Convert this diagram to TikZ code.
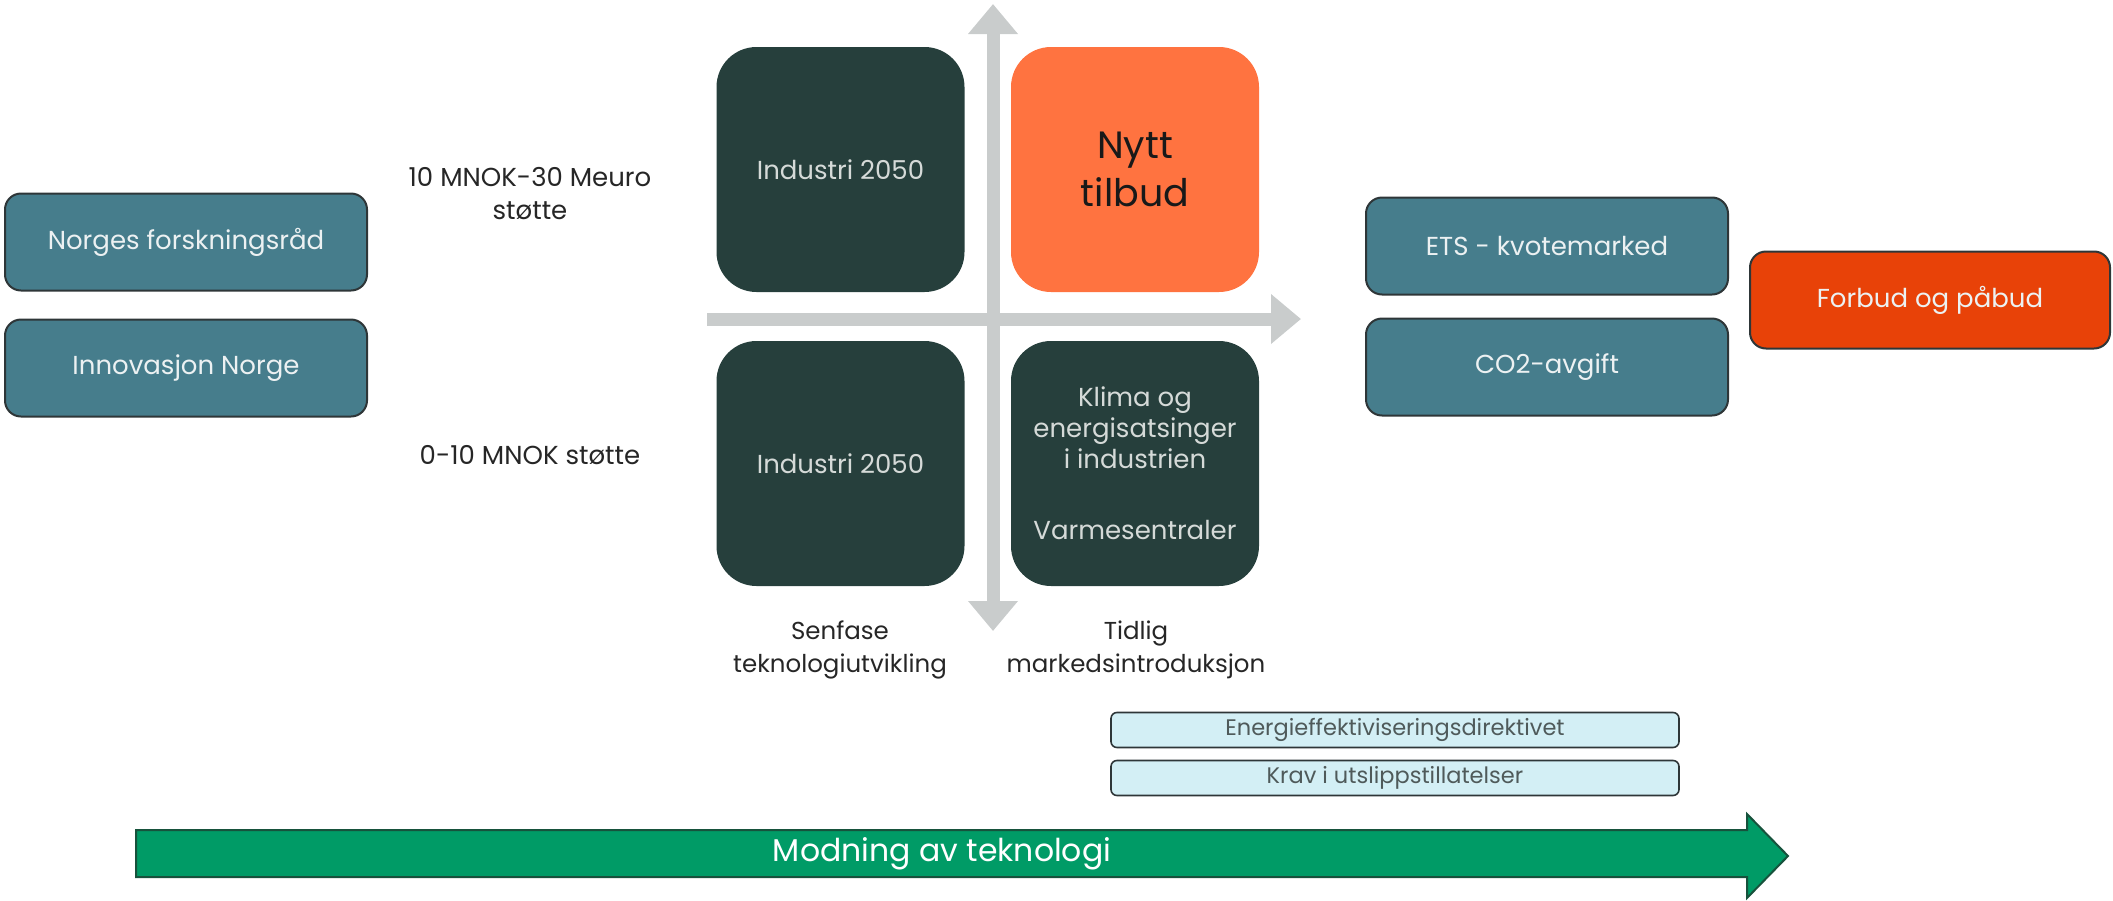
\documentclass[tikz,border=0pt]{standalone}
\usepackage{fontspec}
\setmainfont{Poppins}
\usetikzlibrary{arrows.meta}
\definecolor{cteal}{HTML}{467D8C}
\definecolor{cborder}{HTML}{2E3638}
\definecolor{ctealtext}{HTML}{ECF1F2}
\definecolor{cdark}{HTML}{263F3C}
\definecolor{cdarktext}{HTML}{D5DAD8}
\definecolor{corange}{HTML}{FF7340}
\definecolor{cred}{HTML}{E84208}
\definecolor{clight}{HTML}{D3EFF5}
\definecolor{clighttext}{HTML}{4F5A5A}
\definecolor{cgreen}{HTML}{009B66}
\definecolor{cgreenborder}{HTML}{17523C}
\definecolor{caxis}{HTML}{C9CCCC}
\begin{document}
\begin{tikzpicture}[x=1pt,y=-1pt,
  tealbox/.style={draw=cborder, line width=2pt, fill=cteal, rounded corners=16pt,
    minimum width=362pt, minimum height=97pt, inner sep=0pt, text=ctealtext,
    font=\fontsize{26}{30}\selectfont},
  redbox/.style={tealbox, fill=cred},
  quadbox/.style={fill=cdark, rounded corners=40pt, minimum width=248pt,
    minimum height=245pt, inner sep=0pt, text=cdarktext, align=center,
    font=\fontsize{26}{31}\selectfont},
  lightbox/.style={draw=cborder, line width=1.6pt, fill=clight, rounded corners=6pt,
    minimum width=568pt, minimum height=35pt, inner sep=0pt, text=clighttext,
    font=\fontsize{22.5}{24}\selectfont},
  lbl/.style={align=center, text=black!85, inner sep=0pt,
    font=\fontsize{24.5}{33}\selectfont},
  axis/.style={draw=caxis, line width=13pt,
    -{Triangle[width=48pt,length=30pt]}, shorten >=0pt}
]
\useasboundingbox (0,0) rectangle (2113,900);

% axes
\coordinate (vtop) at (993,4);
\coordinate (vbot) at (993,631);
\coordinate (hleft) at (707,319);
\coordinate (hright) at (1301,319);
\draw[draw=caxis, line width=13pt, {Triangle[width=48pt,length=30pt]}-{Triangle[width=48pt,length=30pt]}] (vtop) -- (vbot);
\draw[axis] (hleft) -- (hright);

% quadrant boxes
\node[quadbox] (tl) at (840.5,169.5) {Industri 2050};
\node[quadbox, fill=corange, text=black!90, font=\fontsize{38}{48}\selectfont] (tr) at (1135,169.5) {Nytt\\tilbud};
\node[quadbox] (bl) at (840.5,463.5) {Industri 2050};
\node[quadbox] (br) at (1135,463.5) {Klima og\\energisatsinger\\i industrien\\[40pt]Varmesentraler};

% left boxes
\node[tealbox] (nfr) at (186,242) {Norges forskningsråd};
\node[tealbox] (inn) at (186,368) {Innovasjon Norge};

% right boxes
\node[tealbox] (ets) at (1547,246) {ETS - kvotemarked};
\node[tealbox] (co2) at (1547,367) {CO2-avgift};
\node[redbox, minimum width=360pt] (forbud) at (1930,300) {Forbud og påbud};

% labels
\node[lbl, font=\fontsize{26}{33}\selectfont] (l1) at (530,194) {10 MNOK-30 Meuro\\støtte};
\node[lbl, font=\fontsize{26}{33}\selectfont] (l2) at (530,455) {0-10 MNOK støtte};
\node[lbl] (l3) at (840,650) {Senfase\\teknologiutvikling};
\node[lbl] (l4) at (1136,650) {Tidlig\\markedsintroduksjon};

% light boxes
\node[lightbox] (energi) at (1395,730) {Energieffektiviseringsdirektivet};
\node[lightbox] (krav) at (1395,778) {Krav i utslippstillatelser};

% green arrow
\draw[fill=cgreen, draw=cgreenborder, line width=2pt, line join=miter]
  (136,830) -- (1747,830) -- (1747,814) -- (1788,856) -- (1747,898) -- (1747,877) -- (136,877) -- cycle;
\node[text=white, inner sep=0pt, font=\fontsize{31.5}{36}\selectfont] (mod) at (942,854) {Modning av teknologi};
\end{tikzpicture}
\end{document}
